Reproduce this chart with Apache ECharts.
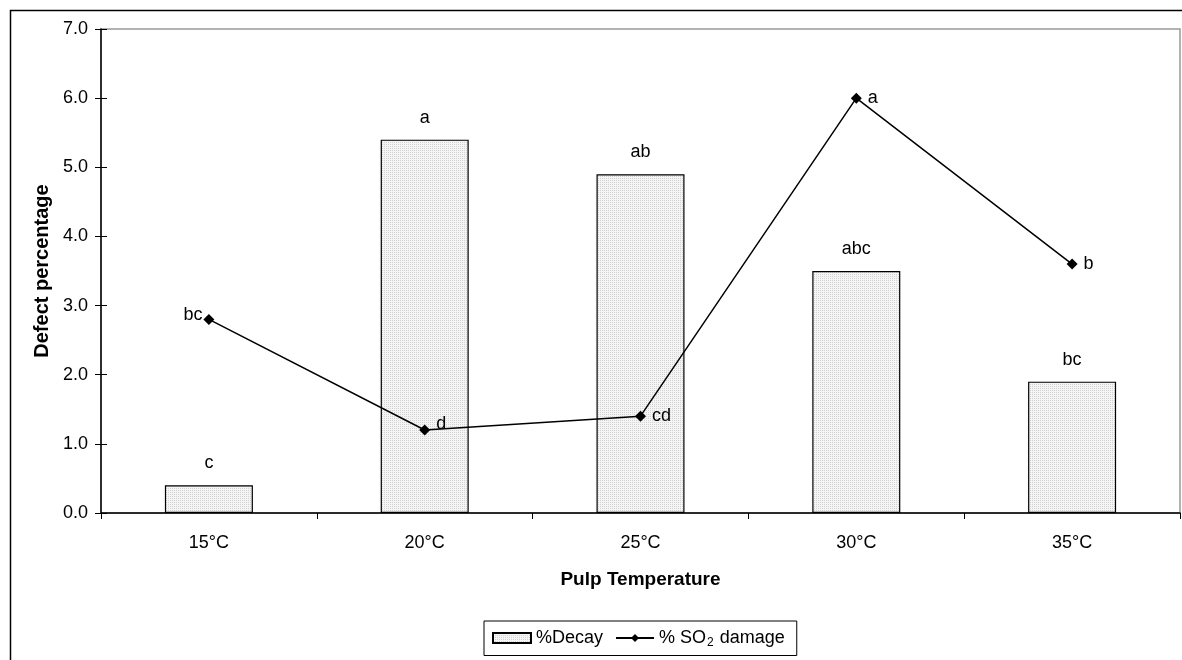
<!DOCTYPE html>
<html><head><meta charset="utf-8">
<script src="https://cdn.jsdelivr.net/npm/echarts@6/dist/echarts.min.js"></script>
<style>html,body{margin:0;padding:0;background:#fff}#c{width:1182px;height:660px}</style>
</head><body><div id="c"></div>
<script>
const categories = ['15°C','20°C','25°C','30°C','35°C'];
const decay = [0.4, 5.4, 4.9, 3.5, 1.9];
const so2 = [2.8, 1.2, 1.4, 6.0, 3.6];
const decayLetters = ['c','a','ab','abc','bc'];
const so2Letters = ['bc','d','cd','a','b'];

const pc = document.createElement('canvas');
pc.width = 2; pc.height = 2;
const pctx = pc.getContext('2d');
pctx.fillStyle = '#f5f5f5'; pctx.fillRect(0,0,2,2);
pctx.fillStyle = '#d2d2d2'; pctx.fillRect(0,0,1,1);

const font = 'Liberation Sans, Arial, sans-serif';
const chart = echarts.init(document.getElementById('c'), null, {renderer:'canvas'});
chart.setOption({
  animation:false,
  textStyle:{fontFamily:font},
  graphic:[{type:'rect', shape:{x:10.5,y:10.5,width:1300,height:800}, style:{fill:'none',stroke:'#000',lineWidth:1.5}, z:-10}],
  grid:{left:101, right:2, top:29, bottom:147, show:true, borderColor:'#999', borderWidth:1.5},
  legend:{
    left:484, top:621, padding:[8,12,7,8], itemGap:12,
    borderColor:'#000', borderWidth:1, itemWidth:38, itemHeight:10,
    textStyle:{fontSize:18, color:'#000', fontFamily:font,
      rich:{a:{fontSize:18,color:'#000',fontFamily:font}, sub:{fontSize:12,color:'#000',fontFamily:font,verticalAlign:'bottom',padding:[9,1,0,1]}}},
    formatter:function(n){ return n==='%Decay' ? '{a|%Decay}' : '{a|% SO}{sub|2}{a| damage}'; },
    data:[{name:'%Decay', icon:'rect'}, {name:'% SO2 damage'}]
  },
  xAxis:{
    type:'category', data:categories,
    axisLine:{lineStyle:{color:'#000',width:1.5}},
    axisTick:{show:true, length:6, lineStyle:{color:'#000'}},
    axisLabel:{color:'#000', fontSize:18, margin:21, fontFamily:font},
    name:'Pulp Temperature', nameLocation:'middle', nameGap:57,
    nameTextStyle:{fontWeight:'bold', fontSize:19, color:'#000', fontFamily:font}
  },
  yAxis:[{
    type:'value', min:0, max:7, interval:1,
    axisLine:{show:true, lineStyle:{color:'#000',width:1.5}},
    axisTick:{show:true, length:6, lineStyle:{color:'#000'}},
    splitLine:{show:false},
    axisLabel:{color:'#000', fontSize:18, margin:13, fontFamily:font, formatter:v=>v.toFixed(1)},
    name:'Defect percentage', nameLocation:'middle', nameGap:48, nameRotate:90,
    nameTextStyle:{fontWeight:'bold', fontSize:20, color:'#000', fontFamily:font}
  },{
    type:'value', min:0, max:7, interval:1, position:'left', offset:0,
    axisLine:{show:false}, axisLabel:{show:false}, splitLine:{show:false},
    axisTick:{show:true, inside:true, length:6, lineStyle:{color:'#000'}}
  }],
  series:[{
    name:'%Decay', type:'bar', barWidth:88,
    data:decay.map((v,i)=>({value:v, label:{formatter:decayLetters[i]}})),
    itemStyle:{color:{image:pc, repeat:'repeat'}, borderColor:'#000', borderWidth:1.2},
    label:{show:true, position:'top', distance:13, color:'#000', fontSize:18, fontFamily:font}
  },{
    name:'% SO2 damage', type:'line',
    data:so2.map((v,i)=>({value:v, label:{formatter:so2Letters[i], position: i===0?'left':'right', offset: i===1?[0,-6]:(i===0?[5,-4]:[0,0])}})),
    symbol:'diamond', symbolSize:11,
    lineStyle:{color:'#000', width:1.5}, itemStyle:{color:'#000'},
    label:{show:true, color:'#000', fontSize:18, fontFamily:font, distance:6},
    z:5
  }]
});
</script></body></html>
